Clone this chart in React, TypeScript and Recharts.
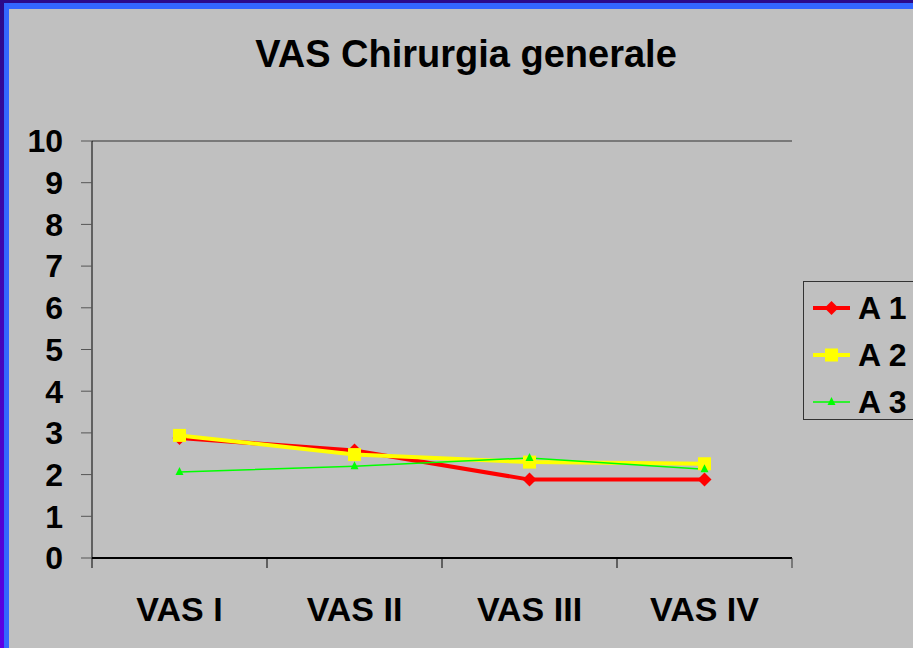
import React from 'react';
import { LineChart, Line, XAxis, YAxis, CartesianGrid, Legend } from 'recharts';

const vasCategoryList = ['VAS I', 'VAS II', 'VAS III', 'VAS IV'];
const seriesA1ValueList = [2.88, 2.58, 1.88, 1.88];
const seriesA2ValueList = [2.94, 2.48, 2.3, 2.26];
const seriesA3ValueList = [2.06, 2.2, 2.4, 2.13];
const seriesNameList = ['A 1', 'A 2', 'A 3'];
const yTickValueList = [0, 1, 2, 3, 4, 5, 6, 7, 8, 9, 10];

const chartTitle = 'VAS Chirurgia generale';

const chartRowList = vasCategoryList.map((vasCategory, categoryIndex) => ({
  vasCategory,
  a1: seriesA1ValueList[categoryIndex],
  a2: seriesA2ValueList[categoryIndex],
  a3: seriesA3ValueList[categoryIndex],
}));

const fontStack = '"Liberation Sans", Arial, sans-serif';
const plotLeft = 92;
const plotRight = 792;
const bandHalfWidth = (plotRight - plotLeft) / vasCategoryList.length / 2;

const seriesStyleMap: Record<string, { color: string; width: number; marker: string }> = {
  a1: { color: '#FF0000', width: 4, marker: 'diamond' },
  a2: { color: '#FFFF00', width: 4, marker: 'square' },
  a3: { color: '#00FF00', width: 1.5, marker: 'triangle' },
};

function MarkerShape({ cx, cy, marker, color }: { cx: number; cy: number; marker: string; color: string }) {
  if (cx == null || cy == null) return null;
  if (marker === 'diamond') {
    return <path d={`M${cx} ${cy - 7}L${cx + 7} ${cy}L${cx} ${cy + 7}L${cx - 7} ${cy}Z`} fill={color} />;
  }
  if (marker === 'square') {
    return <rect x={cx - 6.5} y={cy - 6.5} width={13} height={13} fill={color} />;
  }
  return <path d={`M${cx} ${cy - 5}L${cx + 4} ${cy + 3}L${cx - 4} ${cy + 3}Z`} fill={color} />;
}

function makeDotRenderer(seriesKey: string) {
  const seriesStyle = seriesStyleMap[seriesKey];
  // eslint-disable-next-line @typescript-eslint/no-explicit-any
  return (dotProps: any) => (
    <MarkerShape
      key={`${seriesKey}-${dotProps.index}`}
      cx={dotProps.cx}
      cy={dotProps.cy}
      marker={seriesStyle.marker}
      color={seriesStyle.color}
    />
  );
}

// eslint-disable-next-line @typescript-eslint/no-explicit-any
function VasCategoryTick(tickProps: any) {
  const { x, y, payload, index } = tickProps;
  const axisY = y - 10;
  return (
    <g>
      <line x1={x - bandHalfWidth} y1={axisY} x2={x - bandHalfWidth} y2={axisY + 10} stroke="#000" />
      {index === vasCategoryList.length - 1 && (
        <line x1={x + bandHalfWidth} y1={axisY} x2={x + bandHalfWidth} y2={axisY + 10} stroke="#333" />
      )}
      <text
        x={x}
        y={axisY + 63}
        textAnchor="middle"
        fontFamily={fontStack}
        fontWeight="bold"
        fontSize={34}
        fill="#000"
      >
        {payload.value}
      </text>
    </g>
  );
}

// eslint-disable-next-line @typescript-eslint/no-explicit-any
function SeriesLegendBox(legendProps: any) {
  const { payload } = legendProps;
  return (
    <div
      style={{
        border: '1px solid #333',
        width: 130,
        height: 139,
        paddingTop: 2,
        boxSizing: 'border-box',
      }}
    >
      {/* eslint-disable-next-line @typescript-eslint/no-explicit-any */}
      {payload.map((legendEntry: any) => {
        const seriesStyle = seriesStyleMap[legendEntry.dataKey];
        return (
          <div
            key={legendEntry.dataKey}
            style={{ height: 47, display: 'flex', alignItems: 'center', paddingLeft: 9 }}
          >
            <svg width={37} height={16} style={{ marginRight: 8 }}>
              <line x1={0} y1={8} x2={37} y2={8} stroke={seriesStyle.color} strokeWidth={seriesStyle.width} />
              <MarkerShape cx={18.5} cy={8} marker={seriesStyle.marker} color={seriesStyle.color} />
            </svg>
            <span
              style={{
                fontFamily: fontStack,
                fontWeight: 'bold',
                fontSize: 32,
                color: '#000',
                lineHeight: '32px',
              }}
            >
              {legendEntry.value}
            </span>
          </div>
        );
      })}
    </div>
  );
}

export default function App(): React.JSX.Element {
  return (
    <div
      style={{
        position: 'absolute',
        left: 0,
        top: 0,
        width: 913,
        height: 648,
        background: '#C0C0C0',
        overflow: 'hidden',
      }}
    >
      <div style={{ position: 'absolute', left: 0, top: 0, width: 913, height: 3, background: '#2B0A8A' }} />
      <div style={{ position: 'absolute', left: 3, top: 3, width: 910, height: 6, background: '#3366FF' }} />
      <div
        style={{
          position: 'absolute',
          left: 0,
          top: 0,
          width: 4,
          height: 648,
          background: 'linear-gradient(#2B0A8A, #5C00E6)',
        }}
      />
      <div style={{ position: 'absolute', left: 4, top: 3, width: 5, height: 645, background: '#3366FF' }} />

      <div
        style={{
          position: 'absolute',
          left: 0,
          top: 35,
          width: 932,
          textAlign: 'center',
          fontFamily: fontStack,
          fontWeight: 'bold',
          fontSize: 38,
          lineHeight: '38px',
          color: '#000',
        }}
      >
        {chartTitle}
      </div>

      <div style={{ position: 'absolute', left: 0, top: 0 }}>
        <LineChart
          width={913}
          height={648}
          data={chartRowList}
          margin={{ top: 141, right: 121, left: 0, bottom: 30 }}
        >
          <CartesianGrid horizontal vertical={false} stroke="#333" strokeOpacity={1} />
          <XAxis
            dataKey="vasCategory"
            height={60}
            padding={{ left: bandHalfWidth, right: bandHalfWidth }}
            axisLine={{ stroke: '#000', strokeWidth: 2 }}
            tickLine={false}
            tickSize={10}
            tickMargin={0}
            tick={<VasCategoryTick />}
            interval={0}
          />
          <YAxis
            yAxisId="left"
            width={92}
            domain={[0, 10]}
            ticks={yTickValueList}
            interval={0}
            axisLine={{ stroke: '#000' }}
            tickLine={{ stroke: '#555' }}
            tickSize={11}
            tickMargin={18}
            tick={{ fontFamily: fontStack, fontWeight: 'bold', fontSize: 32, fill: '#000' }}
          />
          <YAxis
            yAxisId="rightBorder"
            orientation="right"
            width={0}
            domain={[0, 10]}
            tick={false}
            tickLine={false}
            axisLine={{ stroke: '#444', strokeWidth: 2 }}
          />
          <Legend
            layout="vertical"
            align="center"
            verticalAlign="middle"
            wrapperStyle={{ left: 803, top: 281, width: 130 }}
            content={<SeriesLegendBox />}
          />
          {(['a1', 'a2', 'a3'] as const).map((seriesKey, seriesIndex) => (
            <Line
              key={seriesKey}
              yAxisId="left"
              type="linear"
              dataKey={seriesKey}
              name={seriesNameList[seriesIndex]}
              stroke={seriesStyleMap[seriesKey].color}
              strokeWidth={seriesStyleMap[seriesKey].width}
              dot={makeDotRenderer(seriesKey)}
              activeDot={false}
              isAnimationActive={false}
            />
          ))}
        </LineChart>
      </div>
    </div>
  );
}
